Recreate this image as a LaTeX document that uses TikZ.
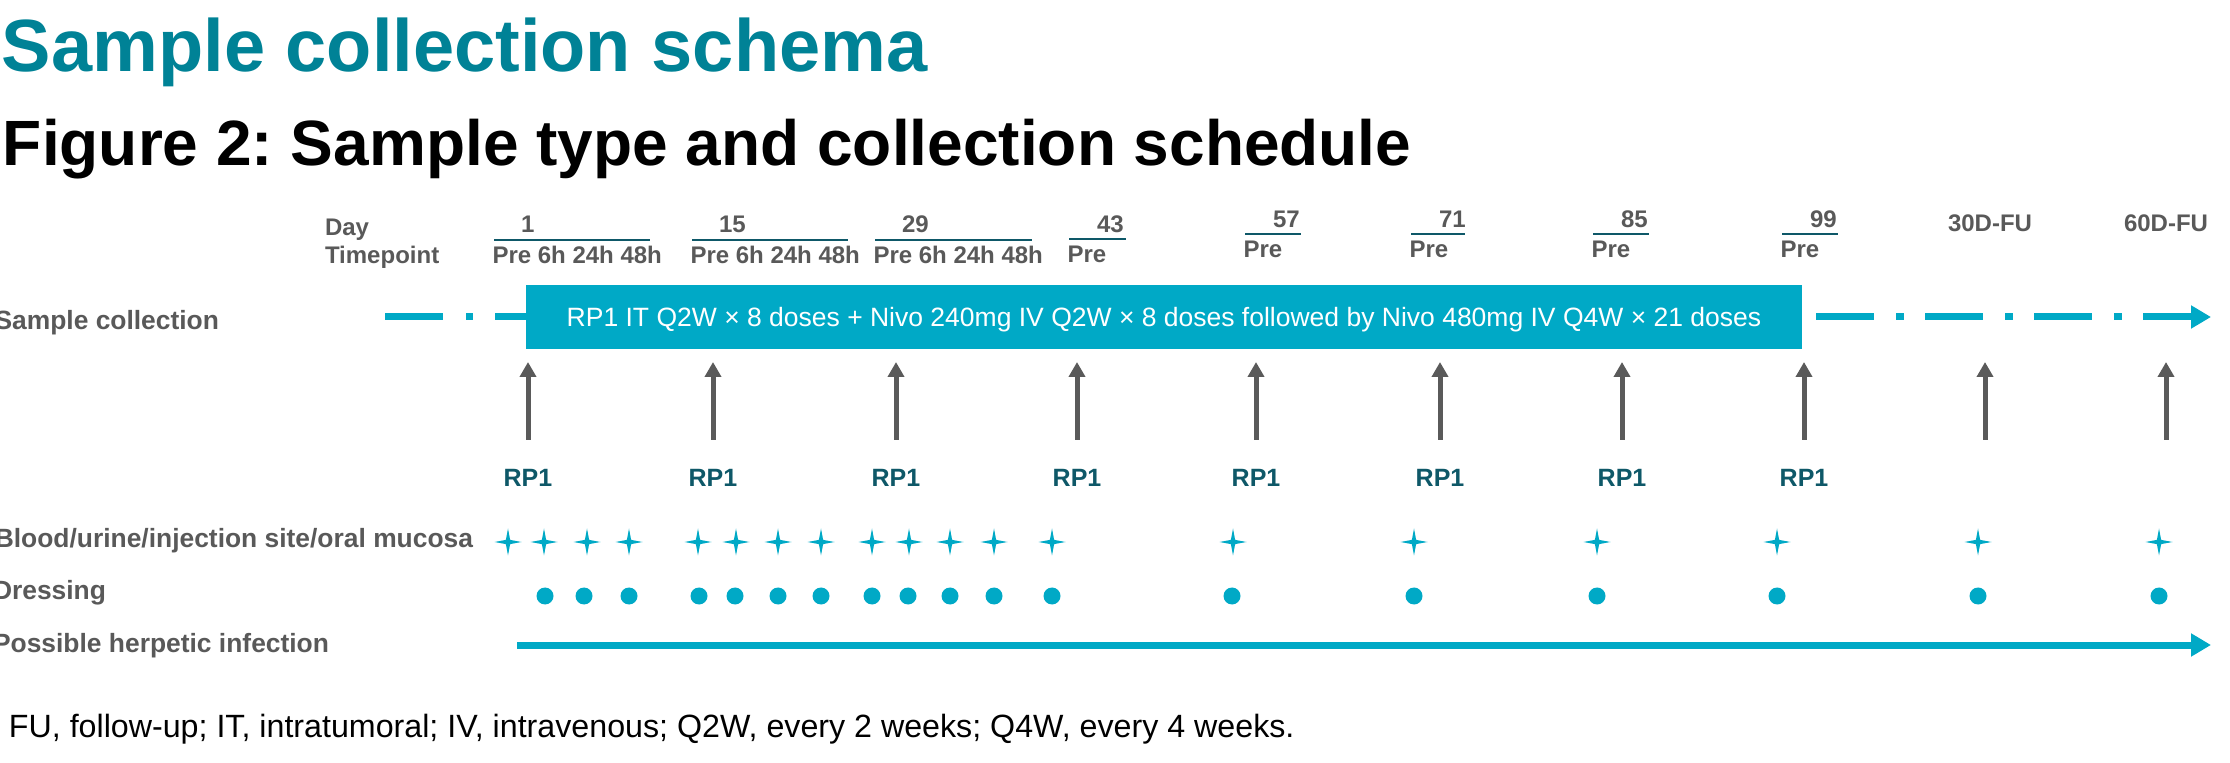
\documentclass[tikz,border=0pt]{standalone}
\usepackage{fontspec}
\setmainfont{Liberation Sans}
\usetikzlibrary{arrows.meta,shapes.geometric}
\frenchspacing

\definecolor{brandcyan}{RGB}{0,169,198}
\definecolor{titleteal}{RGB}{0,130,150}
\definecolor{darkteal}{RGB}{14,88,104}
\definecolor{labelgray}{RGB}{89,89,89}
\definecolor{arrowgray}{RGB}{90,90,90}

\begin{document}
\begin{tikzpicture}[x=0.5pt, y=-0.5pt,
  every node/.style={inner sep=0pt, outer sep=0pt},
  rowlabel/.style={font=\fontsize{13.2}{15}\selectfont\bfseries, text=labelgray, anchor=base east},
  headtext/.style={font=\fontsize{12}{14}\selectfont\bfseries, text=labelgray, anchor=base west},
  dayrule/.style={draw=darkteal, line width=1.4pt},
  dosearrow/.style={draw=arrowgray, line width=2.5pt, -{Triangle[length=7.5pt,width=8pt]}},
  rplabel/.style={font=\fontsize{12.5}{14}\selectfont\bfseries, text=darkteal, anchor=base},
  timeline/.style={draw=brandcyan, line width=3.5pt, -{Triangle[length=10pt,width=11pt]}},
  sparkle/.style={star, star points=4, star point ratio=4.5, minimum size=13.5pt, fill=brandcyan},
  sampledot/.style={circle, minimum size=8.5pt, fill=brandcyan},
]
\useasboundingbox (0,0) rectangle (2230,763);

% headings
\node[font=\fontsize{37}{40}\selectfont\bfseries, text=titleteal, anchor=base west] (title) at (2,72) {Sample collection schema};
\node[font=\fontsize{32}{36}\selectfont\bfseries, text=black, anchor=base west] (figtitle) at (3,166) {Figure 2: Sample type and collection schedule};

% day / timepoint header
\node[headtext] (dayhdr) at (325,236) {Day};
\node[headtext] (tphdr) at (325,264) {Timepoint};

% days with four timepoints
\foreach \xa/\xb/\d [count=\i] in {494/650/1, 692/848/15, 875/1032/29} {
  \coordinate (rulea\i) at (\xa,240);
  \coordinate (ruleb\i) at (\xb,240);
  \draw[dayrule] (rulea\i) -- (ruleb\i);
  \node[headtext] (daynum\i) at (\xa+27,233) {\d};
  \node[headtext] (daytp\i) at (\xa-1.5,264) {Pre 6h 24h 48h};
}
% day 43
\coordinate (rulea4) at (1069,239);
\coordinate (ruleb4) at (1126,239);
\draw[dayrule] (rulea4) -- (ruleb4);
\node[headtext] (daynum4) at (1069+28,233) {43};
\node[headtext] (daytp4) at (1069-1.5,263) {Pre};
% later days, pre-dose only
\foreach \xa/\xb/\d [count=\j from 5] in {1245/1301/57, 1411/1465/71, 1593/1649/85, 1782/1838/99} {
  \coordinate (rulea\j) at (\xa,234);
  \coordinate (ruleb\j) at (\xb,234);
  \draw[dayrule] (rulea\j) -- (ruleb\j);
  \node[headtext] (daynum\j) at (\xa+28,228) {\d};
  \node[headtext] (daytp\j) at (\xa-1.5,258) {Pre};
}
\node[headtext] (fu30) at (1948,232) {30D-FU};
\node[headtext] (fu60) at (2124,232) {60D-FU};

% row labels
\node[rowlabel] (lblsample) at (219,330) {Sample collection};
\node[rowlabel] (lblblood) at (473,548) {Blood/urine/injection site/oral mucosa};
\node[rowlabel] (lbldress) at (106,600) {Dressing};
\node[rowlabel] (lblherpes) at (329,652) {Possible herpetic infection};

% treatment regimen bar
\node[fill=brandcyan, minimum width=638pt, minimum height=32pt, text=white,
      font=\fontsize{13.25}{15}\selectfont, text height=9.5pt, text depth=0pt] (regimen) at (1164,317)
  {RP1 IT Q2W × 8 doses + Nivo 240mg IV Q2W × 8 doses followed by Nivo 480mg IV Q4W × 21 doses};

\coordinate (leadin) at (385,317);
\draw[draw=brandcyan, line width=3.5pt, dash pattern=on 29pt off 11.5pt on 3.5pt off 11pt] (leadin) -- (regimen.west);
\coordinate (fuend) at (2211,317);
\draw[timeline, dash pattern=on 29pt off 11pt on 4pt off 10.5pt, dash phase=47.5pt] (regimen.east) -- (fuend);

% dosing / visit arrows
\foreach \x [count=\i] in {528,713,896,1077,1256,1440,1622,1804,1985,2166} {
  \coordinate (doseb\i) at (\x,440);
  \coordinate (doset\i) at (\x,362);
  \draw[dosearrow] (doseb\i) -- (doset\i);
}
\foreach \x [count=\i] in {528,713,896,1077,1256,1440,1622,1804} {
  \node[rplabel] (rp\i) at (\x,487) {RP1};
}

% blood/urine/injection site/oral mucosa samples
\foreach \x [count=\i] in {508,544,587,629,698,736,778,821,872,909,950,994,1052,1233,1414,1597,1777,1978,2159} {
  \node[sparkle] (spk\i) at (\x,542) {};
}
% dressing samples
\foreach \x [count=\i] in {545,584,629,699,735,778,821,872,908,950,994,1052,1232,1414,1597,1777,1978,2159} {
  \node[sampledot] (dres\i) at (\x,596) {};
}

% possible herpetic infection window
\coordinate (hstart) at (517,645);
\coordinate (hend) at (2211,645);
\draw[timeline] (hstart) -- (hend);

% abbreviations
\node[font=\fontsize{16.1}{18}\selectfont, text=black, anchor=base west] (notes) at (9,737)
  {FU, follow-up; IT, intratumoral; IV, intravenous; Q2W, every 2 weeks; Q4W, every 4 weeks.};
\end{tikzpicture}
\end{document}
